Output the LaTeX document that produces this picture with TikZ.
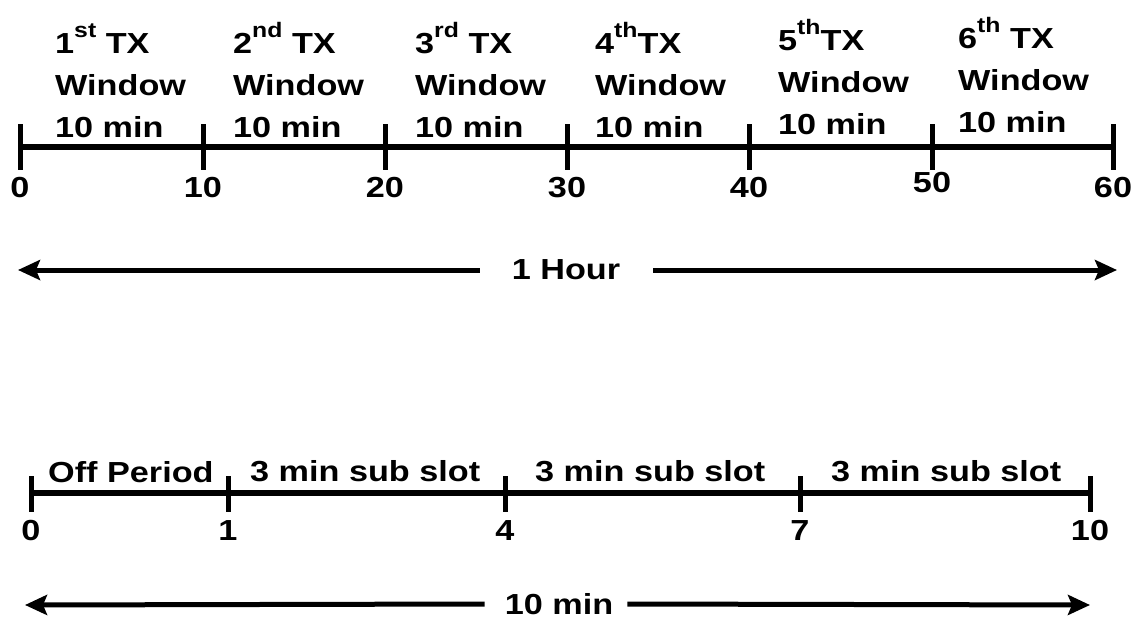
\documentclass[tikz,border=0pt]{standalone}
\usepackage{fontspec}
\setmainfont{Liberation Sans}[FakeStretch=1.18]
\usetikzlibrary{arrows.meta}

% raised ordinal suffix (1st, 2nd, ...)
\newcommand\ordsup[1]{\raisebox{16pt}{\fontsize{21}{21}\selectfont #1}}

\begin{document}
\begin{tikzpicture}[x=1pt,y=-1pt,
  lbl/.style={inner sep=0pt,font=\fontsize{29}{42}\selectfont\bfseries},
  win/.style={lbl,align=left,anchor=base west},
  num/.style={lbl,anchor=center},
  axisline/.style={line width=6pt},
  tick/.style={line width=5pt},
  dim/.style={line width=5pt,-{Stealth[length=22pt,width=20pt,inset=4pt]}}]
\useasboundingbox (0,0) rectangle (1135,619);

% ---------- one hour: six transmission windows ----------
\draw[axisline] (20,147) -- (1113,147);
\foreach \x/\n/\y in {20/0/188,203/10/188,385/20/188,567/30/188,749/40/188,932/50/183,1113/60/188}{
  \draw[tick] (\x,124) -- (\x,170);
  \node[num] (h\n) at (\x,\y) {\n};
}

% window labels, placed by the baseline of their last line
\node[win] (w1) at (55,137)  {1\ordsup{st} TX\\Window\\10 min};
\node[win] (w2) at (233,137) {2\ordsup{nd} TX\\Window\\10 min};
\node[win] (w3) at (415,137) {3\ordsup{rd} TX\\Window\\10 min};
\node[win] (w4) at (595,137) {4\ordsup{th}TX\\Window\\10 min};
\node[win] (w5) at (778,134) {5\ordsup{th}TX\\Window\\10 min};
\node[win] (w6) at (958,132) {6\ordsup{th} TX\\Window\\10 min};

% span of one hour
\node[num] (hour) at (566,270) {1 Hour};
\coordinate (hourL) at (18,270);
\coordinate (hourR) at (1117,270);
\draw[dim] ([xshift=-32pt]hour.west) -- (hourL);
\draw[dim] ([xshift=33pt]hour.east) -- (hourR);

% ---------- one window: off period and sub slots ----------
\draw[axisline] (31,493) -- (1090,493);
\foreach \x/\n in {31/0,228/1,505/4,800/7,1090/10}{
  \draw[tick] (\x,476) -- (\x,512);
  \node[num] (m\n) at (\x,531) {\n};
}

\node[lbl,anchor=base west] (off) at (48,482) {Off Period};
\node[lbl,anchor=base west] (s1) at (250,481) {3 min sub slot};
\node[lbl,anchor=base west] (s2) at (535,481) {3 min sub slot};
\node[lbl,anchor=base west] (s3) at (831,481) {3 min sub slot};

% span of one window
\node[num] (tenmin) at (559,604) {10 min};
\coordinate (tenL) at (25,605);
\coordinate (tenR) at (1090,605);
\draw[dim] ([xshift=-20pt]tenmin.west) -- (tenL);
\draw[dim] ([xshift=14pt]tenmin.east) -- (tenR);
\end{tikzpicture}
\end{document}
